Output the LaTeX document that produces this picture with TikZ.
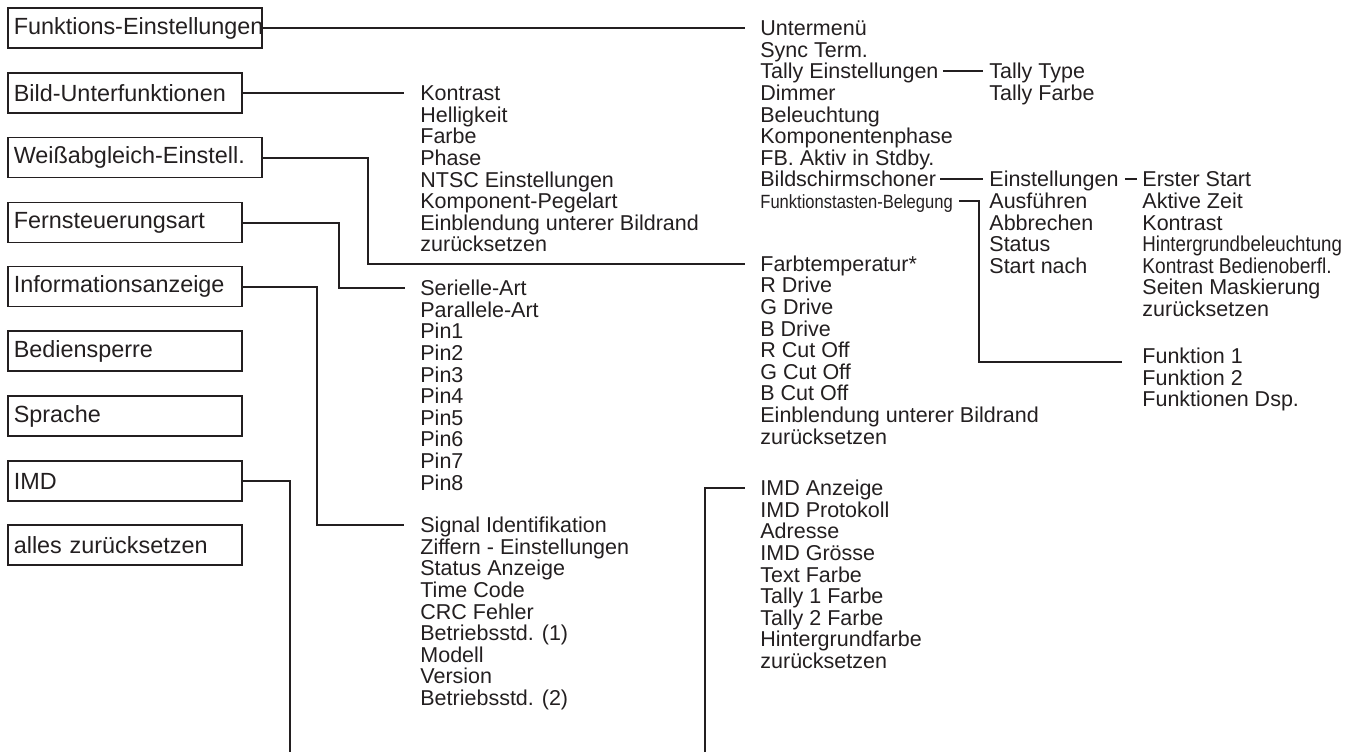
\documentclass[tikz,border=0pt]{standalone}
\usepackage{fontspec}
\setmainfont{Liberation Sans}
\usepackage{graphicx}

\definecolor{ink}{RGB}{35,31,32}
\newcommand{\boxfont}{\fontsize{11.7pt}{13pt}\selectfont}
\newcommand{\itemfont}{\fontsize{10.75pt}{11pt}\selectfont}
\newcommand{\slim}[3]{\scalebox{#1}[#2]{#3}}

\tikzset{
  menu/.style={draw=ink, line width=0.8pt, anchor=west, align=left, text width=111pt,
    inner xsep=3pt, inner ysep=0pt, minimum height=20pt, font=\boxfont, text=ink},
  menuwide/.style={menu, text width=121pt},
  item/.style={anchor=west, inner sep=0pt, text height=7.7pt, text depth=0pt,
    font=\itemfont, text=ink},
  link/.style={draw=ink, line width=1pt},
}

\begin{document}
\begin{tikzpicture}[x=0.5pt, y=-0.5pt]
\useasboundingbox (0,0) rectangle (1365,752);
\def\dy{21.6}
\def\xa{420}
\def\xb{760}
\def\xc{989}
\def\xd{1142}

\node[menuwide] (fe) at (7,28) {\mbox{Funktions-Einstellungen}};
\node[menu] (bu) at (7,93) {Bild-Unterfunktionen};
\node[menuwide] (wa) at (7,157.5) {Weißabgleich-Einstell.};
\node[menu] (fs) at (7,222.5) {Fernsteuerungsart};
\node[menu] (ia) at (7,286.5) {Informationsanzeige};
\node[menu] (bs) at (7,351) {Bediensperre};
\node[menu] (sp) at (7,416) {Sprache};
\node[menu] (imd) at (7,481) {IMD};
\node[menu] (ar) at (7,545) {alles zurücksetzen};

\foreach \t [count=\i] in {Untermenü, Sync Term., Tally Einstellungen, Dimmer,
    Beleuchtung, Komponentenphase, FB. Aktiv in Stdby., Bildschirmschoner,
    {\slim{0.77}{0.89}{Funktionstasten-Belegung}}}
  \node[item] (fa\i) at (\xb, {28+(\i-1)*\dy}) {\t};

\foreach \t [count=\i] in {Tally Type, Tally Farbe}
  \node[item] (ty\i) at (\xc, {28+2*\dy+(\i-1)*\dy}) {\t};

\foreach \t [count=\i] in {Einstellungen, Ausführen, Abbrechen, Status, Start nach}
  \node[item] (sc\i) at (\xc, {28+7*\dy+(\i-1)*\dy}) {\t};

\foreach \t [count=\i] in {Erster Start, Aktive Zeit, Kontrast,
    {\slim{0.87}{1}{Hintergrundbeleuchtung}}, {\slim{0.89}{1}{Kontrast Bedienoberfl.}},
    Seiten Maskierung, zurücksetzen}
  \node[item] (es\i) at (\xd, {28+7*\dy+(\i-1)*\dy}) {\t};

\foreach \t [count=\i] in {Funktion 1, Funktion 2, Funktionen Dsp.}
  \node[item] (fk\i) at (\xd, {356+(\i-1)*\dy}) {\t};

\foreach \t [count=\i] in {Kontrast, Helligkeit, Farbe, Phase, NTSC Einstellungen,
    Komponent-Pegelart, Einblendung unterer Bildrand, zurücksetzen}
  \node[item] (bf\i) at (\xa, {93+(\i-1)*\dy}) {\t};

\foreach \t [count=\i] in {Farbtemperatur*, R Drive, G Drive, B Drive, R Cut Off,
    G Cut Off, B Cut Off, Einblendung unterer Bildrand, zurücksetzen}
  \node[item] (wb\i) at (\xb, {263.5+(\i-1)*\dy}) {\t};

\foreach \t [count=\i] in {Serielle-Art, Parallele-Art, Pin1, Pin2, Pin3, Pin4,
    Pin5, Pin6, Pin7, Pin8}
  \node[item] (fr\i) at (\xa, {288+(\i-1)*\dy}) {\t};

\foreach \t [count=\i] in {Signal Identifikation, Ziffern - Einstellungen,
    Status Anzeige, Time Code, CRC Fehler, Betriebsstd. (1), Modell, Version,
    Betriebsstd. (2)}
  \node[item] (in\i) at (\xa, {525+(\i-1)*\dy}) {\t};

\foreach \t [count=\i] in {IMD Anzeige, IMD Protokoll, Adresse, IMD Grösse,
    Text Farbe, Tally 1 Farbe, Tally 2 Farbe, Hintergrundfarbe, zurücksetzen}
  \node[item] (im\i) at (\xb, {488+(\i-1)*\dy}) {\t};

\coordinate (imdend) at (290,752);
\coordinate (imend) at (705,752);

\draw[link, shorten >=7.5pt] (fe.east) -- (fa1.west);
\draw[link, shorten >=8pt] (bu.east) -- (bf1.west);
\draw[link, shorten >=7.5pt] (wa.east) -- ++(105,0) |- (wb1.west);
\draw[link, shorten >=7.5pt] (fs.east) -- ++(96,0) |- (fr1.west);
\draw[link, shorten >=8pt] (ia.east) -- ++(74,0) |- (in1.west);
\draw[link] (imd.east) -| (imdend);
\draw[link, shorten >=7.5pt] (imend) |- (im1.west);
\draw[link, shorten <=2pt, shorten >=3pt] (fa3.east) -- (ty1.west);
\draw[link, shorten <=2pt, shorten >=3pt] (fa8.east) -- (sc1.west);
\draw[link, shorten <=3pt, shorten >=2.5pt] (sc1.east) -- (es1.west);
\draw[link, shorten <=3pt, shorten >=10pt] (fa9.east) -- ++(26,0) |- ([yshift=-3pt]fk1.west);

\end{tikzpicture}
\end{document}
